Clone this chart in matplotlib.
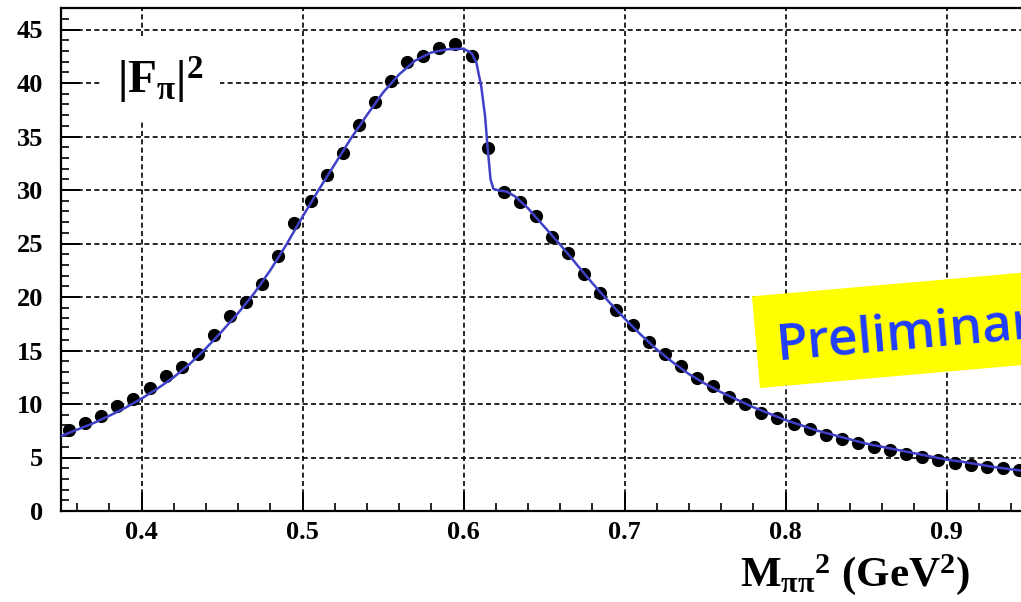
import matplotlib
matplotlib.use("Agg")
import matplotlib.pyplot as plt
from matplotlib.patches import Rectangle
from matplotlib.transforms import Affine2D, IdentityTransform
from matplotlib.ticker import MultipleLocator

# ---------------- data ----------------
x_pts = [0.355, 0.365, 0.375, 0.385, 0.395, 0.405, 0.415, 0.425, 0.435, 0.445,
         0.455, 0.465, 0.475, 0.485, 0.495, 0.505, 0.515, 0.525, 0.535, 0.545,
         0.555, 0.565, 0.575, 0.585, 0.595, 0.605, 0.615, 0.625, 0.635, 0.645,
         0.655, 0.665, 0.675, 0.685, 0.695, 0.705, 0.715, 0.725, 0.735, 0.745,
         0.755, 0.765, 0.775, 0.785, 0.795, 0.805, 0.815, 0.825, 0.835, 0.845,
         0.855, 0.865, 0.875, 0.885, 0.895, 0.905, 0.915, 0.925, 0.935, 0.945]
y_pts = [7.58, 8.26, 8.89, 9.85, 10.5, 11.48, 12.63, 13.44, 14.69, 16.46,
         18.18, 19.49, 21.23, 23.79, 26.88, 28.94, 31.37, 33.46, 36.1, 38.2,
         40.16, 41.94, 42.5, 43.28, 43.69, 42.5, 33.93, 29.78, 28.9, 27.6,
         25.57, 24.1, 22.17, 20.42, 18.8, 17.4, 15.78, 14.69, 13.56, 12.47,
         11.69, 10.69, 9.98, 9.14, 8.67, 8.14, 7.67, 7.11, 6.77, 6.33,
         5.96, 5.71, 5.3, 5.02, 4.74, 4.46, 4.3, 4.14, 4.05, 3.84]

fit_x = [0.35, 0.36, 0.37, 0.38, 0.39, 0.40, 0.41, 0.42, 0.43, 0.44,
         0.45, 0.46, 0.47, 0.48, 0.49, 0.50, 0.51, 0.52, 0.53, 0.54,
         0.55, 0.56, 0.57, 0.58, 0.59, 0.60, 0.605, 0.608, 0.611, 0.6134,
         0.615, 0.6168, 0.6186, 0.622, 0.627, 0.632, 0.64, 0.65, 0.66, 0.67,
         0.68, 0.69, 0.70, 0.71, 0.72, 0.73, 0.74, 0.75, 0.76, 0.77,
         0.78, 0.79, 0.80, 0.81, 0.82, 0.83, 0.84, 0.85, 0.86, 0.87,
         0.88, 0.89, 0.90, 0.91, 0.92, 0.93, 0.94, 0.95]
fit_y = [7.0, 7.6, 8.2, 8.9, 9.65, 10.5, 11.45, 12.5, 13.75, 15.2,
         16.8, 18.5, 20.35, 22.5, 24.9, 27.5, 30.0, 32.4, 34.8, 37.0,
         39.1, 40.8, 42.1, 42.85, 43.15, 43.2, 42.8, 41.9, 39.7, 36.9,
         33.9, 31.0, 30.1, 29.95, 29.85, 29.4, 28.3, 26.6, 24.9, 23.1,
         21.3, 19.6, 18.0, 16.5, 15.1, 13.9, 12.8, 11.9, 11.1, 10.4,
         9.7, 9.1, 8.5, 8.0, 7.5, 7.1, 6.7, 6.3, 6.0, 5.7,
         5.4, 5.1, 4.8, 4.6, 4.35, 4.1, 3.9, 3.7]

x_ticks = [0.4, 0.5, 0.6, 0.7, 0.8, 0.9]
x_ticklabels = ["0.4", "0.5", "0.6", "0.7", "0.8", "0.9"]
y_ticks = [0, 5, 10, 15, 20, 25, 30, 35, 40, 45]
y_ticklabels = ["0", "5", "10", "15", "20", "25", "30", "35", "40", "45"]

# ---------------- style ----------------
plt.rcParams['font.family'] = ['Liberation Serif', 'DejaVu Serif']
plt.rcParams['font.weight'] = 'bold'
plt.rcParams['mathtext.fontset'] = 'custom'
plt.rcParams['mathtext.rm'] = 'Liberation Serif:bold'
plt.rcParams['mathtext.it'] = 'Liberation Serif:bold'
plt.rcParams['mathtext.bf'] = 'Liberation Serif:bold'

W, H = 1021, 602
fig = plt.figure(figsize=(W / 100, H / 100), dpi=100)
fig.patch.set_facecolor('white')

left_px, right_px, bottom_px, top_px = 61, 1021, 511, 8
ax = fig.add_axes([left_px / W, (H - bottom_px) / H,
                   (right_px - left_px) / W, (bottom_px - top_px) / H])

ax.set_xlim(0.35, 0.35 + (right_px - left_px) / 1610.0)
ax.set_ylim(0, (bottom_px - top_px) / 10.7)

ax.plot(x_pts, y_pts, 'o', color='black', markersize=8.5, zorder=3)
ax.plot(fit_x, fit_y, '-', color='#4040c8', linewidth=1.8, zorder=4)

ax.set_xticks(x_ticks)
ax.set_xticklabels(x_ticklabels)
ax.set_yticks(y_ticks)
ax.set_yticklabels(y_ticklabels)
ax.xaxis.set_minor_locator(MultipleLocator(0.02))
ax.yaxis.set_minor_locator(MultipleLocator(1))
ax.tick_params(which='major', direction='in', length=13.5, width=1.4,
               labelsize=19, top=False, right=False)
ax.tick_params(axis='x', which='major', pad=7)
ax.tick_params(axis='y', which='major', pad=13)
ax.tick_params(which='minor', direction='in', length=6, width=1.2,
               top=False, right=False)
for lab in ax.get_xticklabels() + ax.get_yticklabels():
    lab.set_fontweight('bold')

ax.grid(True, which='major', color='black', linestyle=(0, (3, 2)),
        linewidth=1.2, zorder=1)
ax.set_axisbelow(True)
for s in ['left', 'bottom', 'top']:
    ax.spines[s].set_linewidth(1.6)
ax.spines['right'].set_visible(False)

# y label inside the frame
ax.text((160 - left_px) / (right_px - left_px), (bottom_px - 80) / (bottom_px - top_px),
        r'$|F_{\pi}|^{2}$', transform=ax.transAxes,
        fontsize=34, ha='center', va='center', zorder=5,
        bbox=dict(facecolor='white', edgecolor='none', pad=12))

# x label
fig.text(740 / W, (H - 586) / H, r'$M_{\pi\pi}{}^{2}$ (GeV$^{2}$)',
         fontsize=31, fontweight='bold', ha='left', va='baseline')

# Preliminary banner
rect = Rectangle((760, H - 388), 320, 92, facecolor='#ffff00', edgecolor='none',
                 transform=Affine2D().rotate_deg_around(760, H - 388, 5) + IdentityTransform(),
                 zorder=10)
fig.add_artist(rect)
fig.text(777 / W, (H - 360) / H, 'Preliminary', fontsize=37,
         family=['Open Sans', 'DejaVu Sans'], fontweight='semibold',
         color='#1f3cff', rotation=5, rotation_mode='anchor',
         ha='left', va='baseline', zorder=11)

fig.savefig('out.png', dpi=100, facecolor='white')
